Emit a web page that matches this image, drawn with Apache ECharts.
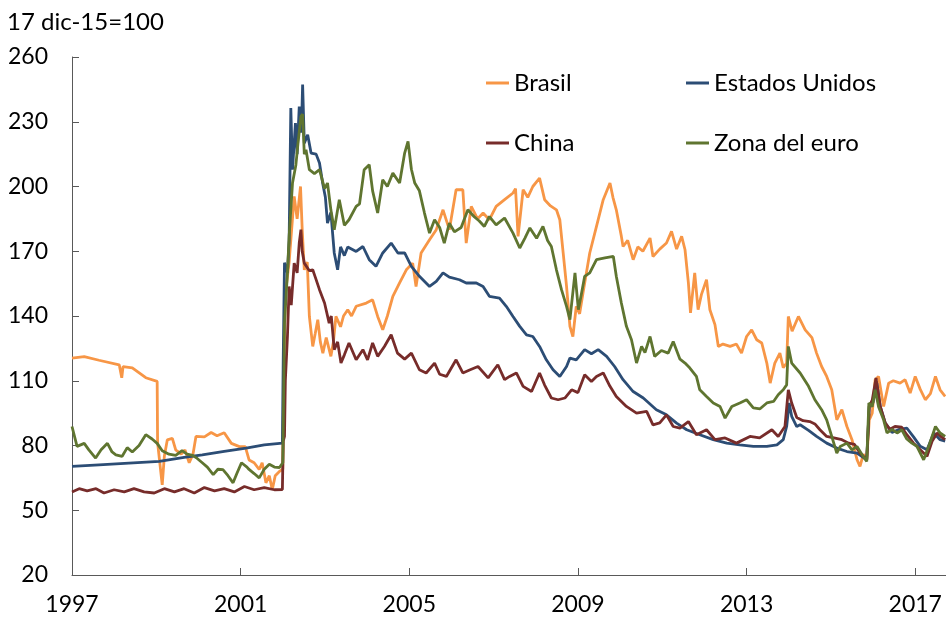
<!DOCTYPE html>
<html><head><meta charset="utf-8">
<script src="https://cdn.jsdelivr.net/npm/echarts@6/dist/echarts.min.js"></script>
<style>html,body{margin:0;padding:0;background:#fff}#c{width:946px;height:628px}</style>
</head><body><div id="c"></div>
<script>
const yTicks = [20, 50, 80, 110, 140, 170, 200, 230, 260];
const xTicks = [1997, 2001, 2005, 2009, 2013, 2017];
const seriesNames = ['Brasil', 'Estados Unidos', 'China', 'Zona del euro'];

const brasilYears = [1997.00,1997.29,1997.64,1998.12,1998.16,1998.18,1998.21,1998.43,1998.75,1999.02,1999.03,1999.14,1999.19,1999.26,1999.38,1999.46,1999.59,1999.68,1999.78,1999.87,1999.94,2000.14,2000.30,2000.44,2000.61,2000.78,2000.97,2001.11,2001.20,2001.32,2001.44,2001.51,2001.60,2001.68,2001.75,2001.82,2001.92,2002.00,2002.02,2002.06,2002.15,2002.27,2002.34,2002.42,2002.46,2002.51,2002.58,2002.63,2002.71,2002.77,2002.83,2002.89,2002.95,2003.03,2003.14,2003.20,2003.26,2003.37,2003.44,2003.54,2003.63,2003.74,2003.98,2004.13,2004.25,2004.37,2004.48,2004.61,2004.77,2004.93,2005.08,2005.16,2005.28,2005.48,2005.64,2005.80,2005.95,2006.11,2006.27,2006.35,2006.47,2006.62,2006.75,2006.90,2007.06,2007.26,2007.46,2007.52,2007.58,2007.70,2007.81,2007.93,2008.09,2008.21,2008.35,2008.49,2008.57,2008.65,2008.73,2008.81,2008.88,2008.96,2009.04,2009.12,2009.28,2009.44,2009.60,2009.76,2009.83,2009.91,2010.03,2010.07,2010.18,2010.31,2010.42,2010.54,2010.71,2010.78,2010.94,2011.10,2011.22,2011.34,2011.46,2011.54,2011.62,2011.67,2011.77,2011.85,2011.93,2012.05,2012.13,2012.25,2012.33,2012.44,2012.61,2012.76,2012.88,2013.00,2013.12,2013.24,2013.36,2013.48,2013.56,2013.67,2013.79,2013.87,2013.95,2013.99,2014.08,2014.23,2014.39,2014.55,2014.66,2014.78,2014.90,2015.02,2015.14,2015.26,2015.38,2015.50,2015.62,2015.69,2015.77,2015.85,2015.89,2015.91,2015.98,2016.05,2016.13,2016.25,2016.37,2016.48,2016.64,2016.76,2016.88,2017.00,2017.12,2017.24,2017.36,2017.48,2017.59,2017.71];
const brasilValues = [120.5,121.2,119.5,117.4,116.5,111.4,116.5,116,111.4,109.7,81.3,61.8,75,82.6,83.3,78,76,78,72,76,84.2,84,86,84.5,85.9,81,79.5,79.5,73.3,72,68.9,72,62.7,66,59.5,66,68,69,110,150,165,195.4,185,200,180,161.4,165,139.8,125.9,132,138.3,128,122.8,130,121.3,128,139.8,135,140,142.9,140,144.5,146,147.5,139.8,133.6,140,149.1,155.3,161.4,164.5,153.7,169.2,175.3,180,189.2,180,198.5,198.5,173.8,190.8,185,187.7,184.6,190.8,193.9,197,199,176.9,198.5,195,200,203.9,193.9,191,189.2,184.6,169.2,153.7,135.2,130.5,144.5,141,150.6,169.2,181.5,193.9,201.6,195,189.2,176.9,172.2,175,166.1,172,170,176.1,167.6,171,173.8,179.2,171,176.9,170.7,155.3,141.4,160,142.9,150,156.8,142.9,136,125.9,127,125.9,127,122.8,130.5,133.6,129,127.5,118.2,108.9,118.2,122.8,116,118.2,139.8,133,139.8,133.6,130,122.8,116.6,112,105.8,91.9,96.6,88.8,82.7,73.4,70.3,76,73.4,74,91.9,95,110.5,112,98.1,108.9,110,108.9,110.5,104.3,112,106,101.2,104,112,105.8,102.7];

const euaYears = [1997.00,1997.64,1998.35,1999.07,1999.66,2000.09,2000.61,2001.13,2001.56,2001.99,2002.01,2002.04,2002.11,2002.15,2002.19,2002.23,2002.30,2002.34,2002.39,2002.44,2002.47,2002.51,2002.59,2002.67,2002.79,2002.87,2002.95,2003.01,2003.06,2003.14,2003.22,2003.30,2003.37,2003.46,2003.54,2003.74,2003.90,2004.05,2004.21,2004.37,2004.57,2004.73,2004.89,2005.05,2005.24,2005.48,2005.64,2005.80,2005.95,2006.19,2006.35,2006.59,2006.75,2006.90,2007.14,2007.30,2007.46,2007.62,2007.78,2007.93,2008.09,2008.25,2008.41,2008.57,2008.73,2008.81,2008.96,2009.16,2009.32,2009.48,2009.68,2009.87,2010.07,2010.31,2010.55,2010.86,2011.10,2011.34,2011.58,2011.89,2012.21,2012.53,2012.84,2013.16,2013.48,2013.72,2013.87,2013.95,2014.01,2014.07,2014.19,2014.27,2014.47,2014.66,2014.90,2015.14,2015.38,2015.62,2015.85,2015.89,2015.91,2016.00,2016.09,2016.17,2016.29,2016.45,2016.60,2016.80,2016.96,2017.12,2017.28,2017.44,2017.59,2017.71];
const euaValues = [70.3,71,71.8,72.6,74.5,75.7,77.3,78.8,80.3,81.1,120,164.7,160,175,236.4,207.8,229.4,215,237,225,247.2,220,224,215.5,215,210.9,201,195,183,188,169.2,161.4,172,168,172,169.9,172.2,166.1,163,169.2,173.8,169.2,169.2,163,158.4,153.7,156,160,158,156.8,155.3,155.3,153.7,149.1,148.3,144.5,139.8,135.2,131.3,130.5,125.9,119.7,115.1,112,116.6,120.5,119.7,124.4,122.5,124.4,121.3,116.6,110.5,105,102,96.6,94.2,90.4,87.3,85,82.7,81.1,80.3,79.6,79.6,80.3,82.7,88.8,99.7,93.5,88.8,89.6,87,84.2,81.1,78.8,77.2,76.5,73.4,74,98.1,100,108.9,98.1,90.4,86,87.3,88.1,84,79.6,78,85.8,82.7,82];

const chinaYears = [1997.00,1997.17,1997.36,1997.57,1997.76,1998.00,1998.24,1998.47,1998.71,1998.95,1999.19,1999.43,1999.66,1999.90,2000.14,2000.38,2000.61,2000.85,2001.09,2001.32,2001.56,2001.80,2001.99,2002.01,2002.04,2002.06,2002.11,2002.15,2002.20,2002.27,2002.34,2002.39,2002.43,2002.46,2002.51,2002.63,2002.71,2002.77,2002.87,2002.99,2003.10,2003.15,2003.22,2003.30,2003.38,2003.46,2003.57,2003.74,2003.90,2004.01,2004.13,2004.25,2004.41,2004.57,2004.72,2004.89,2005.05,2005.24,2005.40,2005.60,2005.72,2005.88,2006.11,2006.27,2006.43,2006.63,2006.87,2007.10,2007.26,2007.38,2007.54,2007.70,2007.90,2008.09,2008.21,2008.37,2008.53,2008.69,2008.85,2009.00,2009.16,2009.32,2009.44,2009.60,2009.76,2009.91,2010.15,2010.39,2010.63,2010.78,2010.94,2011.10,2011.26,2011.42,2011.62,2011.81,2012.05,2012.25,2012.49,2012.76,2013.08,2013.31,2013.60,2013.75,2013.91,2013.99,2014.07,2014.19,2014.34,2014.50,2014.62,2014.74,2014.90,2015.07,2015.26,2015.42,2015.56,2015.69,2015.85,2015.89,2015.91,2015.98,2016.07,2016.17,2016.29,2016.40,2016.52,2016.68,2016.80,2016.96,2017.12,2017.28,2017.40,2017.52,2017.62,2017.71];
const chinaValues = [58.5,60,59,60,58,59.5,58.5,60,58.5,58,60,58.5,60,58,60.5,59,60,58.5,61,59.5,60.5,59.5,59.6,82,84.2,110,130.5,153.7,145,164.5,160,173.8,180,170,164.5,161,161.4,158,152.2,146,136.7,140,124.4,128,118.2,122,127.5,119.7,124.4,119.7,127.5,121.3,125.9,131.3,122.8,120,122.8,115.1,113.6,118.2,113,112,119.7,113.6,115,116.6,111.3,117.4,110.5,112,113.6,107.4,105,113.6,108,102,101.2,102,105.8,104.5,112.8,109.7,112,113.6,107.4,102.7,98.1,95,95.8,89.6,90.5,94.2,88.8,88.1,91.1,85,87.3,82.7,83.5,81.1,84.2,83.5,87.3,84.2,88.8,105.8,99.7,93,91.5,91.1,90,87.3,84.2,83.5,82.7,81.1,80.5,76.5,73.4,74,98.1,101,111.3,98.1,90.4,87.5,88.8,88.5,85,81.1,78,75,82,85.8,84,82.7];

const euroYears = [1997.00,1997.12,1997.29,1997.40,1997.56,1997.69,1997.84,1997.95,1998.04,1998.19,1998.31,1998.43,1998.59,1998.75,1998.90,1999.02,1999.14,1999.30,1999.46,1999.61,1999.73,1999.86,1999.97,2000.09,2000.21,2000.35,2000.46,2000.58,2000.70,2000.82,2000.91,2001.02,2001.15,2001.20,2001.32,2001.44,2001.56,2001.68,2001.80,2001.92,2002.00,2002.04,2002.11,2002.15,2002.23,2002.31,2002.36,2002.43,2002.47,2002.51,2002.55,2002.63,2002.75,2002.87,2002.99,2003.06,2003.14,2003.22,2003.34,2003.46,2003.57,2003.74,2003.82,2003.93,2004.05,2004.13,2004.25,2004.37,2004.48,2004.61,2004.77,2004.89,2004.97,2005.05,2005.13,2005.24,2005.36,2005.48,2005.60,2005.72,2005.83,2005.95,2006.07,2006.23,2006.39,2006.54,2006.66,2006.78,2006.90,2007.06,2007.26,2007.46,2007.62,2007.74,2007.86,2008.02,2008.17,2008.28,2008.37,2008.49,2008.61,2008.73,2008.81,2008.93,2009.01,2009.08,2009.16,2009.28,2009.44,2009.64,2009.84,2009.91,2010.03,2010.15,2010.27,2010.39,2010.51,2010.59,2010.71,2010.82,2010.98,2011.14,2011.26,2011.42,2011.54,2011.65,2011.81,2011.89,2012.05,2012.21,2012.37,2012.49,2012.65,2012.84,2013.00,2013.16,2013.32,2013.48,2013.64,2013.75,2013.87,2013.95,2013.99,2014.07,2014.27,2014.47,2014.62,2014.78,2014.90,2015.02,2015.14,2015.22,2015.38,2015.50,2015.62,2015.74,2015.85,2015.89,2015.90,2015.98,2016.05,2016.13,2016.25,2016.33,2016.45,2016.57,2016.68,2016.80,2016.92,2017.04,2017.20,2017.32,2017.48,2017.59,2017.71];
const euroValues = [88.8,79.6,81,78,74.2,78,81,77,75.7,75,79,77,80,85,83,81,77.6,76,75.4,77.6,76,75.4,74,72,70,66.5,69,68.8,66,62.7,67,72,70,68.9,67,65,69,71.3,70,69.8,72,136.7,160,176.9,201.6,210,220,232.5,233.5,215,217,207.8,206,207.8,199,201.6,189.2,180,193.9,182,184.6,190.8,192,207.8,210.1,198,187.7,203.1,200,206.2,201.6,215.5,220.9,208,201.6,198,187.7,178.4,184.6,181,173.8,183,179,181,189.2,186,184,181.5,186.1,182.2,185.4,178.4,171.5,176,180.8,176,181.5,175,172.2,161.4,152.2,144.5,138.3,160,142.9,150,158.4,160,166.1,166.9,167.6,158.4,146,135.2,129,118.2,125.9,123,130.5,121.3,124,122.8,128.2,120,118.2,116,112,105.8,102.7,99.7,98.1,92.7,98.1,99.7,101.2,97.4,97,99.7,100.4,103.5,105.8,108.1,125.9,118.2,113.6,107.4,101.2,96.6,91.9,84.2,76.5,79.5,81.1,78,79.6,75.7,72.6,73,99.7,98,105.8,98,91.9,85.8,87.5,85.8,87.3,83,81.1,79.6,73.4,79.6,88.8,85.8,84.2];

const colors = ['#F79646', '#2C4D75', '#772C2A', '#5F7530'];
const FONT = 'Lato';

function pairs(xs, ys) { return xs.map((x, i) => [x, ys[i]]); }
const datasets = [pairs(brasilYears, brasilValues), pairs(euaYears, euaValues), pairs(chinaYears, chinaValues), pairs(euroYears, euroValues)];

const legendPos = [[481, 66], [681, 66], [481, 126], [681, 126]];

const chart = echarts.init(document.getElementById('c'), null, {renderer: 'canvas'});
chart.setOption({
  animation: false,
  backgroundColor: '#fff',
  title: {text: '17 dic-15=100', left: 2, top: 5, textStyle: {fontFamily: FONT, fontSize: 24, fontWeight: 'normal', color: '#000'}},
  legend: seriesNames.map((n, i) => ({
    data: [n], left: legendPos[i][0], top: legendPos[i][1], icon: 'rect', itemWidth: 23, itemHeight: 3,
    textStyle: {fontFamily: FONT, fontSize: 24, color: '#000'}
  })),
  grid: {left: 72, right: 0, top: 57, bottom: 53, containLabel: false},
  xAxis: {
    type: 'value', min: 1997, max: 2017.73,
    axisLine: {show: true, lineStyle: {color: '#595959', width: 1}},
    axisTick: {show: true, inside: true, length: 7, customValues: xTicks, lineStyle: {color: '#595959'}},
    axisLabel: {customValues: xTicks, margin: 18, fontFamily: FONT, fontSize: 23, color: '#000', formatter: v => String(Math.round(v))},
    splitLine: {show: false}
  },
  yAxis: {
    type: 'value', min: 20, max: 260,
    axisLine: {show: true, lineStyle: {color: '#595959', width: 1}},
    axisTick: {show: true, inside: true, length: 7, customValues: yTicks, lineStyle: {color: '#595959'}},
    axisLabel: {customValues: yTicks, margin: 24, fontFamily: FONT, fontSize: 23, color: '#000'},
    splitLine: {show: false}
  },
  series: seriesNames.map((n, i) => ({
    name: n, type: 'line', data: datasets[i], showSymbol: false, symbol: 'none',
    lineStyle: {width: 2.8, color: colors[i]}, itemStyle: {color: colors[i]}, z: 2 + i
  }))
});
</script></body></html>
